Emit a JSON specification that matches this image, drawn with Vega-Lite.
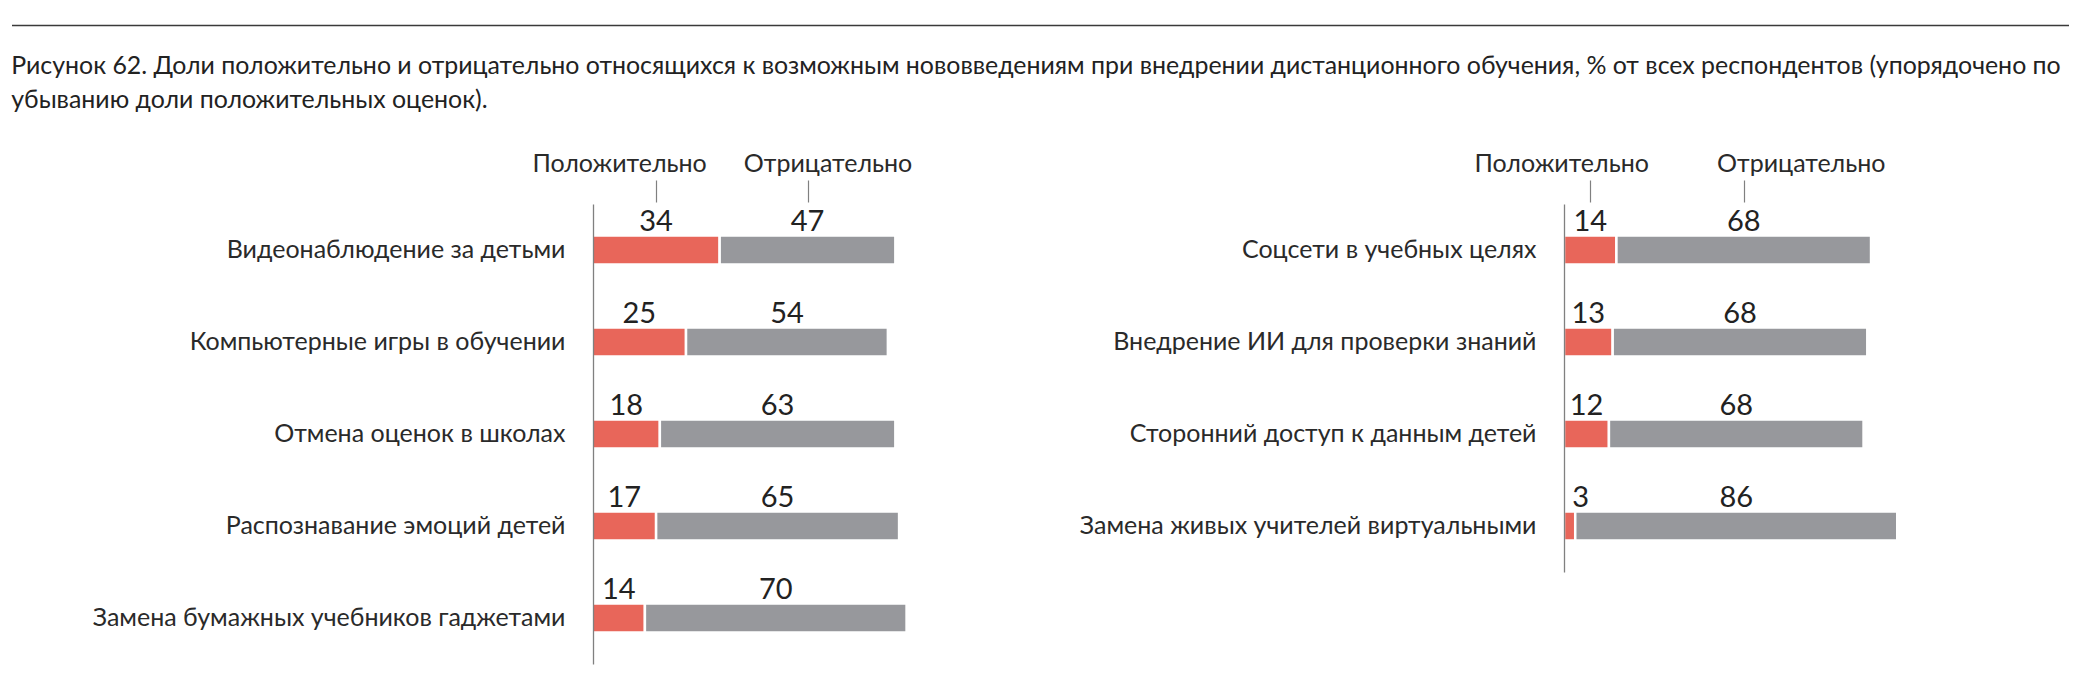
{
  "$schema": "https://vega.github.io/schema/vega-lite/v6.json",
  "padding": {"left": 11, "top": 24, "right": 10, "bottom": 10},
  "background": "white",
  "config": {"view": {"stroke": null}, "font": "Lato"},
  "datasets": {
    "survey": [
      {"panel": "left", "cat": "Видеонаблюдение за детьми", "type": "Положительно", "value": 34},
      {"panel": "left", "cat": "Видеонаблюдение за детьми", "type": "Отрицательно", "value": 47},
      {"panel": "left", "cat": "Компьютерные игры в обучении", "type": "Положительно", "value": 25},
      {"panel": "left", "cat": "Компьютерные игры в обучении", "type": "Отрицательно", "value": 54},
      {"panel": "left", "cat": "Отмена оценок в школах", "type": "Положительно", "value": 18},
      {"panel": "left", "cat": "Отмена оценок в школах", "type": "Отрицательно", "value": 63},
      {"panel": "left", "cat": "Распознавание эмоций детей", "type": "Положительно", "value": 17},
      {"panel": "left", "cat": "Распознавание эмоций детей", "type": "Отрицательно", "value": 65},
      {"panel": "left", "cat": "Замена бумажных учебников гаджетами", "type": "Положительно", "value": 14},
      {"panel": "left", "cat": "Замена бумажных учебников гаджетами", "type": "Отрицательно", "value": 70},
      {"panel": "right", "cat": "Соцсети в учебных целях", "type": "Положительно", "value": 14},
      {"panel": "right", "cat": "Соцсети в учебных целях", "type": "Отрицательно", "value": 68},
      {"panel": "right", "cat": "Внедрение ИИ для проверки знаний", "type": "Положительно", "value": 13},
      {"panel": "right", "cat": "Внедрение ИИ для проверки знаний", "type": "Отрицательно", "value": 68},
      {"panel": "right", "cat": "Сторонний доступ к данным детей", "type": "Положительно", "value": 12},
      {"panel": "right", "cat": "Сторонний доступ к данным детей", "type": "Отрицательно", "value": 68},
      {"panel": "right", "cat": "Замена живых учителей виртуальными", "type": "Положительно", "value": 3},
      {"panel": "right", "cat": "Замена живых учителей виртуальными", "type": "Отрицательно", "value": 86}
    ],
    "rule": [{"a": 0, "b": 1}]
  },
  "spacing": 37,
  "vconcat": [
    {
      "width": 2057,
      "height": 1,
      "data": {"name": "rule"},
      "mark": {"type": "rule", "color": "#3a3a3a", "strokeWidth": 1.5},
      "encoding": {
        "x": {"field": "a", "type": "quantitative", "scale": {"domain": [0, 1]}, "axis": null},
        "x2": {"field": "b"}
      },
      "title": {
        "text": [
          "Рисунок 62. Доли положительно и отрицательно относящихся к возможным нововведениям при внедрении дистанционного обучения, % от всех респондентов (упорядочено по",
          "убыванию доли положительных оценок)."
        ],
        "orient": "bottom",
        "anchor": "start",
        "baseline": "top",
        "fontSize": 24.9,
        "fontWeight": "normal",
        "color": "#222222",
        "lineHeight": 34,
        "offset": 28
      }
    },
    {
      "spacing": 135,
      "hconcat": [
        {
          "width": 917,
          "height": 460,
          "data": {"name": "survey"},
          "transform": [{"filter": "datum.panel == 'left'"}],
          "encoding": {
            "y": {
              "field": "cat", "type": "nominal", "sort": null,
              "scale": {"paddingInner": 0, "paddingOuter": 0},
              "axis": {"title": null, "ticks": false, "domain": true, "domainColor": "#808080", "domainWidth": 1.3, "offset": -581, "labelPadding": 28, "labelFontSize": 25, "labelColor": "#2a2a2a", "labelLimit": 700, "zindex": 1}
            }
          },
          "layer": [
            {
              "mark": {"type": "bar", "size": 29, "stroke": "white", "strokeWidth": 2.5},
              "encoding": {
                "x": {
                  "field": "value", "type": "quantitative", "stack": "zero",
                  "scale": {"domain": [-155.3, 90], "nice": false, "zero": false},
                  "axis": {"orient": "top", "values": [17, 57.5], "title": null, "domain": false, "grid": false, "ticks": true, "tickSize": 22, "tickColor": "#808080", "tickWidth": 1.2, "offset": 2, "labelExpr": "datum.value < 30 ? 'Положительно' : 'Отрицательно'", "labelFontSize": 25, "labelColor": "#2a2a2a", "labelPadding": 4, "labelOverlap": false, "labelFlush": false, "labelOffset": {"condition": {"test": "datum.value < 30", "value": -37}, "value": 20}}
                },
                "color": {"field": "type", "type": "nominal", "scale": {"domain": ["Положительно", "Отрицательно"], "range": ["#E8665A", "#97989C"]}, "legend": null},
                "order": {"field": "type", "sort": "descending"}
              }
            },
            {
              "mark": {"type": "text", "baseline": "alphabetic", "dy": -19, "fontSize": 29, "color": "#222222"},
              "encoding": {
                "x": {"field": "value", "type": "quantitative", "stack": "zero", "bandPosition": 0.5},
                "text": {"field": "value", "type": "quantitative"},
                "detail": {"field": "type"},
                "order": {"field": "type", "sort": "descending"}
              }
            }
          ]
        },
        {
          "width": 337,
          "height": 368,
          "data": {"name": "survey"},
          "transform": [{"filter": "datum.panel == 'right'"}],
          "encoding": {
            "y": {
              "field": "cat", "type": "nominal", "sort": null,
              "scale": {"paddingInner": 0, "paddingOuter": 0},
              "axis": {"title": null, "ticks": false, "domain": true, "domainColor": "#808080", "domainWidth": 1.3, "labelPadding": 28, "labelFontSize": 25, "labelColor": "#2a2a2a", "labelLimit": 700, "minExtent": 500, "zindex": 1}
            }
          },
          "layer": [
            {
              "mark": {"type": "bar", "size": 29, "stroke": "white", "strokeWidth": 2.5},
              "encoding": {
                "x": {
                  "field": "value", "type": "quantitative", "stack": "zero",
                  "scale": {"domain": [0, 90], "nice": false},
                  "axis": {"orient": "top", "values": [7, 48], "title": null, "domain": false, "grid": false, "ticks": true, "tickSize": 22, "tickColor": "#808080", "tickWidth": 1.2, "offset": 2, "labelExpr": "datum.value < 30 ? 'Положительно' : 'Отрицательно'", "labelFontSize": 25, "labelColor": "#2a2a2a", "labelPadding": 4, "labelOverlap": false, "labelFlush": false, "labelOffset": {"condition": {"test": "datum.value < 30", "value": -29}, "value": 57}}
                },
                "color": {"field": "type", "type": "nominal", "scale": {"domain": ["Положительно", "Отрицательно"], "range": ["#E8665A", "#97989C"]}, "legend": null},
                "order": {"field": "type", "sort": "descending"}
              }
            },
            {
              "mark": {"type": "text", "baseline": "alphabetic", "dy": -19, "fontSize": 29, "color": "#222222", "dx": {"expr": "datum.value < 5 ? 11 : 0"}},
              "encoding": {
                "x": {"field": "value", "type": "quantitative", "stack": "zero", "bandPosition": 0.5},
                "text": {"field": "value", "type": "quantitative"},
                "detail": {"field": "type"},
                "order": {"field": "type", "sort": "descending"}
              }
            }
          ]
        }
      ]
    }
  ]
}
